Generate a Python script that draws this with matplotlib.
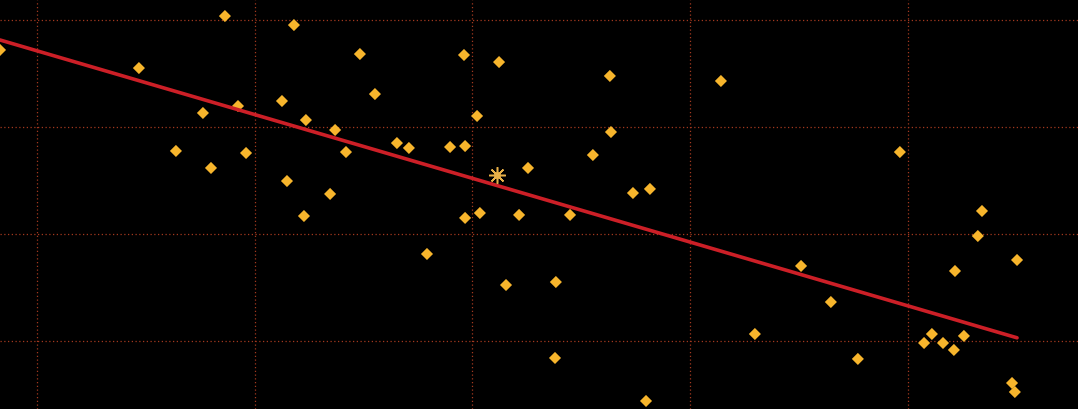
import numpy as np
import matplotlib.pyplot as plt

# scatter values
x_vals = [0.830, 1.468, 1.863, 2.180, 1.762, 1.923, 1.638, 1.960, 1.799, 2.125,
          2.235, 2.148, 2.226, 2.346, 2.369, 2.419, 2.483, 2.552, 2.653, 2.708,
          2.791, 2.897, 2.966, 2.961, 3.021, 2.966, 3.034, 3.122, 3.255, 3.214,
          3.154, 3.383, 3.448, 3.379, 3.553, 3.631, 3.636, 3.737, 3.815, 3.797,
          4.141, 4.297, 4.509, 4.646, 4.770, 4.963, 5.074, 5.110, 5.161, 5.211,
          5.257, 5.216, 5.321, 5.340, 5.501, 5.478, 5.491]
y_vals = [3.720, 3.551, 4.037, 3.953, 3.131, 3.196, 2.776, 2.757, 2.617, 3.243,
          3.065, 2.495, 2.168, 2.374, 2.972, 2.766, 3.682, 3.308, 2.850, 2.804,
          1.813, 2.813, 2.822, 3.673, 3.103, 2.150, 2.196, 3.607, 2.617, 2.178,
          1.523, 1.551, 2.178, 0.841, 2.738, 3.477, 2.953, 2.383, 2.421, 0.439,
          3.430, 1.065, 1.701, 1.364, 0.832, 2.766, 0.981, 1.065, 0.981, 0.916,
          1.047, 1.654, 1.981, 2.215, 1.757, 0.607, 0.523]

# fitted trend line and centroid marker
fit_slope = -0.596
fit_intercept = 4.308
center = (3.113, 2.551)

x_grid = [1, 2, 3, 4, 5]
y_grid = [1, 2, 3, 4]

fig = plt.figure(figsize=(10.78, 4.09), dpi=100)
fig.patch.set_facecolor('black')
ax = fig.add_axes([0, 0, 1, 1])
ax.set_facecolor('black')

# dotted grid
for gx in x_grid:
    ax.axvline(gx, color='#a3381f', lw=0.9, ls=(0, (1, 2)), zorder=1)
for gy in y_grid:
    ax.axhline(gy, color='#a3381f', lw=0.9, ls=(0, (1, 2)), zorder=1)

ax.scatter(x_vals, y_vals, marker='D', s=38, color='#f7b52c', edgecolors='none', zorder=3)

xs = np.array([min(x_vals), max(x_vals)])
ax.plot(xs, fit_slope * xs + fit_intercept, color='#cc1f27', lw=2.6,
        solid_capstyle='round', zorder=4)

ax.plot(center[0], center[1], marker=(8, 2, 0), ms=12, mew=1.1,
        color='#e8b048', zorder=5)
ax.plot(center[0], center[1], marker='o', ms=4, color='#e8b048', zorder=5)

ax.set_xlim(0.830, 5.781)
ax.set_ylim(0.364, 4.187)
ax.set_xticks([])
ax.set_yticks([])
for s in ax.spines.values():
    s.set_visible(False)

fig.savefig('out.png', dpi=100, facecolor='black')
